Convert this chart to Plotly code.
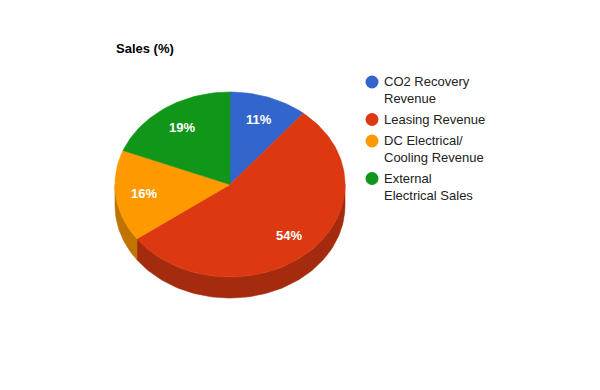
import numpy as np
import plotly.graph_objects as go

# ---- data ----
categories = ["CO2 Recovery Revenue", "Leasing Revenue",
              "DC Electrical/Cooling Revenue", "External Electrical Sales"]
legend_labels = ["CO2 Recovery<br>Revenue", "Leasing Revenue",
                 "DC Electrical/<br>Cooling Revenue", "External<br>Electrical Sales"]
values = [11, 54, 16, 19]
colors = ["#3366cc", "#dc3912", "#ff9900", "#109618"]
side_colors = ["#264c99", "#a52b0e", "#bf7300", "#0c7012"]
chart_title = "Sales (%)"

# ---- layout geometry (pixels) ----
W, H = 600, 390
CX, CY, RX, RY, DEPTH = 230, 184.5, 115, 92.5, 21
FONT = "Arial, Liberation Sans, sans-serif"


def pt(theta_deg, r=1.0, dy=0.0):
    t = np.radians(theta_deg)
    return CX + RX * r * np.sin(t), CY - RY * r * np.cos(t) + dy


total = float(sum(values))
bounds = np.concatenate([[0], np.cumsum(values) / total * 360.0])

fig = go.Figure()

# sides (visible front part: 90..270 deg clockwise from top)
for i, (a0, a1) in enumerate(zip(bounds[:-1], bounds[1:])):
    s0, s1 = max(a0, 90.0), min(a1, 270.0)
    if s1 <= s0:
        continue
    th = np.linspace(s0, s1, max(int((s1 - s0) / 1.5), 2))
    xt, yt = pt(th)
    xb, yb = pt(th[::-1], dy=DEPTH)
    xs = np.concatenate([xt, xb, xt[:1]])
    ys = np.concatenate([yt, yb, yt[:1]])
    fig.add_trace(go.Scatter(x=xs, y=ys, mode="lines", fill="toself",
                             fillcolor=side_colors[i],
                             line=dict(color=side_colors[i], width=0.6),
                             hoverinfo="skip", showlegend=False))

# top faces
for i, (a0, a1) in enumerate(zip(bounds[:-1], bounds[1:])):
    th = np.linspace(a0, a1, max(int((a1 - a0) / 1.5), 2))
    xa, ya = pt(th)
    xs = np.concatenate([[CX], xa, [CX]])
    ys = np.concatenate([[CY], ya, [CY]])
    fig.add_trace(go.Scatter(x=xs, y=ys, mode="lines", fill="toself",
                             fillcolor=colors[i],
                             line=dict(color=colors[i], width=0.6),
                             name=categories[i], hoveron="fills",
                             hoverinfo="name", showlegend=False))

annotations = []
# percentage labels
for i, (a0, a1) in enumerate(zip(bounds[:-1], bounds[1:])):
    lx, ly = pt((a0 + a1) / 2, r=0.75)
    annotations.append(dict(x=lx, y=ly, xref="x", yref="y", showarrow=False,
                            text=f"<b>{values[i] / total * 100:.0f}%</b>",
                            font=dict(family=FONT, size=13, color="white"),
                            xanchor="center", yanchor="middle"))

# title
annotations.append(dict(x=114, y=48, xref="x", yref="y", showarrow=False,
                        text="<b>" + chart_title + "</b>",
                        font=dict(family=FONT, size=13, color="#000000"),
                        xanchor="left", yanchor="middle"))

# legend (drawn manually, Google-style: marker aligned with first line)
shapes = []
LH, GAP, y_line = 16.0, 5.5, 82.0
for i, lab in enumerate(legend_labels):
    nlines = lab.count("<br>") + 1
    shapes.append(dict(type="circle", xref="x", yref="y",
                       x0=372 - 6.5, x1=372 + 6.5, y0=y_line - 6.5, y1=y_line + 6.5,
                       fillcolor=colors[i], line=dict(width=0)))
    annotations.append(dict(x=381.5, y=y_line + (nlines - 1) * LH / 2,
                            xref="x", yref="y", showarrow=False, text=lab,
                            align="left",
                            font=dict(family=FONT, size=13, color="#222222"),
                            xanchor="left", yanchor="middle"))
    y_line += nlines * LH + GAP

fig.update_layout(
    width=W, height=H, margin=dict(l=0, r=0, t=0, b=0),
    paper_bgcolor="white", plot_bgcolor="white",
    xaxis=dict(range=[0, W], visible=False, fixedrange=True),
    yaxis=dict(range=[H, 0], visible=False, fixedrange=True),
    annotations=annotations, shapes=shapes, showlegend=False,
)

fig.write_html("out.html")
